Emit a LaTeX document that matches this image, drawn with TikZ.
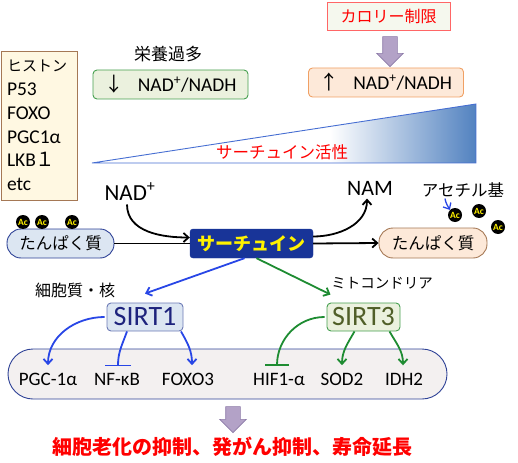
\documentclass[tikz,border=0pt]{standalone}
\usepackage{fontspec}
\setmainfont{Carlito}
\newfontfamily\jp{Noto Sans CJK JP}
\usepackage{xcolor}
\usetikzlibrary{arrows.meta, positioning, shapes.arrows}

\definecolor{creamfill}{RGB}{255,248,226}
\definecolor{creamline}{RGB}{165,120,85}
\definecolor{greenfill}{RGB}{235,241,222}
\definecolor{greenline}{RGB}{70,160,80}
\definecolor{peachfill}{RGB}{253,233,217}
\definecolor{peachline}{RGB}{240,160,100}
\definecolor{pillblue}{RGB}{220,230,242}
\definecolor{navyline}{RGB}{45,65,150}
\definecolor{sirtblue}{RGB}{24,52,152}
\definecolor{wedgeblue}{RGB}{82,130,192}
\definecolor{wedgeline}{RGB}{70,110,210}
\definecolor{arrowfill}{RGB}{179,162,199}
\definecolor{arrowedge}{RGB}{140,122,168}
\definecolor{bluearrow}{RGB}{40,70,230}
\definecolor{greenarrow}{RGB}{30,140,50}
\definecolor{sirtonetext}{RGB}{30,35,125}
\definecolor{sirtthreetext}{RGB}{80,95,40}
\definecolor{panelfill}{RGB}{243,240,240}

\begin{document}
\begin{tikzpicture}[
  x=1pt, y=1pt,
  jptext/.style={font=\jp\fontsize{#1}{#1}\selectfont, inner sep=1pt},
  nadbox/.style={draw, rounded corners=4pt, line width=0.9pt, minimum width=155pt,
                 minimum height=29pt, inner sep=0pt, font=\fontsize{19.5}{19.5}\selectfont},
  pill/.style={draw, rounded corners=14pt, line width=0.9pt, minimum width=107pt,
               minimum height=29pt, inner sep=0pt, font=\jp\fontsize{16.5}{16.5}\selectfont},
  sirtbox/.style={draw, rounded corners=4pt, line width=0.9pt, minimum height=28pt,
                  inner sep=0pt, font=\fontsize{28}{28}\selectfont},
  acdot/.style={circle, fill=black, minimum size=14pt, inner sep=0pt, text=yellow,
                font=\bfseries\fontsize{9.5}{9.5}\selectfont},
  blockarrow/.style={single arrow, draw=arrowedge, fill=arrowfill, line width=0.6pt,
                     shape border rotate=270, minimum height=#1, minimum width=26pt,
                     single arrow head extend=6pt, inner sep=7pt},
  target/.style={font=\fontsize{19}{19}\selectfont},
  blackarrow/.style={line width=1.8pt, -{Straight Barb[length=5pt, width=9pt]}},
  bluearr/.style={bluearrow, line width=1.8pt, -{Straight Barb[length=5pt, width=9pt]}},
  greenarr/.style={greenarrow, line width=1.8pt, -{Straight Barb[length=5pt, width=9pt]}}
]
\useasboundingbox (0,0) rectangle (518,-462);

% target list
\node[draw=creamline, fill=creamfill, line width=0.9pt, minimum width=76pt, minimum height=149pt,
      text width=64pt, align=left, inner sep=0pt, font=\fontsize{19.5}{23.8}\selectfont]
  (targets) at (39,-125.5)
  {{\jp\fontsize{15}{23.8}\selectfont ヒストン}\\P53\\FOXO\\PGC1α\\LKB{\jp １}\\etc};

% NAD+/NADH boxes
\node[jptext=17] (surplus) at (168,-54) {栄養過多};
\node[nadbox, draw=greenline, fill=greenfill] (nadlow) at (170.5,-84.5)
  {{\jp ↓}\hspace{14pt}NAD\textsuperscript{+}/NADH};
\node[draw=red!60!white, fill=greenfill!50!white, line width=0.9pt, minimum width=123pt,
      minimum height=28pt, text=red, jptext=16] (calorie) at (388.5,-16) {カロリー制限};
\node[blockarrow=30pt] (toparrow) at (390,-48) {};
\node[nadbox, draw=peachline, fill=peachfill] (nadhigh) at (386,-82.5)
  {{\jp ↑}\hspace{14pt}NAD\textsuperscript{+}/NADH};

% activity wedge
\begin{scope}
  \clip (92,-163) -- (476,-104) -- (476,-163) -- cycle;
  \shade[left color=white, right color=wedgeblue] (330,-163) rectangle (476,-104);
\end{scope}
\draw[wedgeline, line width=0.9pt] (92,-163) -- (476,-104) -- (476,-163) -- cycle;
\node[jptext=16.5, text=red] (activity) at (282,-152) {サーチュイン活性};

% reaction
\node[font=\fontsize{23}{23}\selectfont] (nad) at (130,-192) {NAD\textsuperscript{+}};
\node[font=\fontsize{22}{22}\selectfont] (nam) at (370,-188) {NAM};
\node[jptext=16.5] (acetyl) at (463,-190) {アセチル基};
\node[pill, draw=navyline, fill=pillblue] (protin) at (60.5,-243.5) {たんぱく質};
\node[draw=sirtblue, fill=sirtblue, rounded corners=3pt, minimum width=123pt, minimum height=29pt,
      inner sep=0pt, text=yellow, font=\jp\bfseries\fontsize{18}{18}\selectfont]
  (sirtuin) at (251.5,-243.5) {サーチュイン};
\node[pill, draw=creamline, fill=peachfill, minimum width=108pt, minimum height=30pt]
  (protout) at (433,-243) {たんぱく質};

\node[acdot] (ac1) at (23,-222) {Ac};
\node[acdot] (ac2) at (42,-222) {Ac};
\node[acdot] (ac3) at (72,-222) {Ac};
\node[acdot] (ac4) at (455,-215) {Ac};
\node[acdot] (ac5) at (479,-211) {Ac};
\node[acdot] (ac6) at (498,-227) {Ac};

\draw[line width=1.8pt] (protin.east) -- (sirtuin.west);
\draw[blackarrow] ([xshift=-3pt]nad.south) to[out=-90, in=180] ([yshift=6pt]sirtuin.west);
\draw[blackarrow] ([yshift=7pt]sirtuin.east) to[out=0, in=-90] ([xshift=-3pt]nam.south);
\draw[blackarrow] (sirtuin.east) -- (protout.west);
\draw[bluearr, line width=1.3pt] ([xshift=-18pt]acetyl.south) to[out=-80, in=120] (ac4.north west);

% SIRT1 / SIRT3
\node[jptext=16] (cyto) at (75,-290) {細胞質・核};
\node[jptext=14.5] (mito) at (382,-283) {ミトコンドリア};
\node[sirtbox, draw=navyline!70!white, fill=pillblue, text=sirtonetext, minimum width=76pt]
  (sirtone) at (145,-317) {SIRT1};
\node[sirtbox, draw=greenline, fill=greenfill, text=sirtthreetext, minimum width=73pt]
  (sirtthree) at (363.5,-317) {SIRT3};
\draw[bluearr] ([xshift=-7pt]sirtuin.south) -- ([yshift=9pt]sirtone.north);
\draw[greenarr] ([xshift=5pt]sirtuin.south) -- ([xshift=-33pt, yshift=8pt]sirtthree.north);

% targets panel
\node[draw=navyline, fill=panelfill, line width=0.9pt, rounded corners=25pt,
      minimum width=439pt, minimum height=50pt] (panel) at (227.5,-374) {};
\node[target] (pgc) at (48,-379) {PGC-1α};
\node[target] (nfkb) at (117,-379) {NF-κB};
\node[target] (foxo) at (188,-379) {FOXO3};
\node[target] (hif) at (279,-379) {HIF1-α};
\node[target] (sod) at (342,-379) {SOD2};
\node[target] (idh) at (404,-379) {IDH2};

\draw[bluearr] ([xshift=-2pt]sirtone.west) to[out=180, in=90] ([yshift=4pt]pgc.north);
\draw[bluearrow, line width=1.8pt, -{Bar[width=26pt, line width=1.8pt]}]
  ([xshift=-18pt]sirtone.south) to[out=-110, in=90] ([xshift=1pt, yshift=3pt]nfkb.north);
\draw[bluearr] ([xshift=36pt]sirtone.south) to[out=-60, in=90] ([xshift=4pt, yshift=4pt]foxo.north);
\draw[greenarrow, line width=1.8pt, -{Bar[width=24pt, line width=1.8pt]}]
  ([xshift=-2pt]sirtthree.west) to[out=180, in=90] ([xshift=-2pt, yshift=3pt]hif.north);
\draw[greenarr] ([xshift=-9pt]sirtthree.south) to[out=-120, in=90] ([yshift=4pt]sod.north);
\draw[greenarr] ([xshift=26pt]sirtthree.south) to[out=-60, in=90] ([xshift=-1pt, yshift=4pt]idh.north);

% outcome
\node[blockarrow=26pt] (botarrow) at (233,-416) {};
\node[jptext=20, text=red, font=\jp\bfseries\fontsize{20}{20}\selectfont] (outcome) at (232,-447)
  {細胞老化の抑制、発がん抑制、寿命延長};
\end{tikzpicture}
\end{document}
